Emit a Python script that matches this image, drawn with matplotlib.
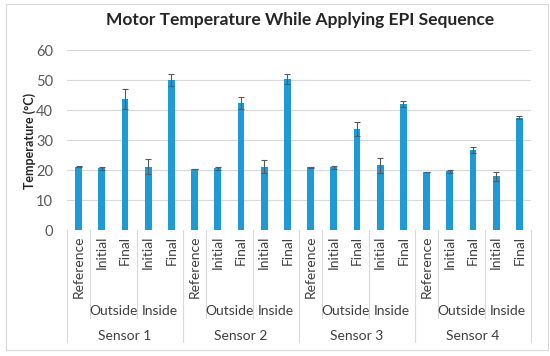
import numpy as np
import matplotlib.pyplot as plt
from matplotlib.patches import Rectangle
from matplotlib.transforms import blended_transform_factory

plt.rcParams['font.family'] = ['Lato', 'DejaVu Sans']

sensors = ["Sensor 1", "Sensor 2", "Sensor 3", "Sensor 4"]
conditions = ["Reference", "Initial", "Final", "Initial", "Final"]
locations = ["Outside", "Inside"]
temps = [21.1, 20.6, 43.7, 21.1, 49.9,
         20.3, 20.6, 42.4, 21.1, 50.3,
         20.9, 20.9, 33.6, 21.6, 41.9,
         19.3, 19.6, 26.6, 17.9, 37.4]
errs = [0.1, 0.5, 3.3, 2.5, 2.0,
        0.1, 0.5, 1.9, 2.1, 1.7,
        0.1, 0.5, 2.4, 2.5, 1.0,
        0.1, 0.5, 1.0, 1.5, 0.5]

W, H = 550, 356
fig = plt.figure(figsize=(W / 100, H / 100), dpi=100)
ax = fig.add_axes([67 / W, (H - 230) / H, 464 / W, 180 / H])

x = np.arange(len(temps))
ax.bar(x, temps, width=0.3, color='#1E9AD6', zorder=3,
       yerr=errs, capsize=2.5,
       error_kw=dict(ecolor='#595959', elinewidth=0.8, capthick=0.8, zorder=4))

ax.set_xlim(-0.5, len(temps) - 0.5)
ax.set_ylim(0, 60)
ax.set_yticks(range(0, 61, 10))
ax.set_xticks([])
ax.grid(axis='y', color='#D9D9D9', lw=0.8, zorder=0)
for s in ax.spines.values():
    s.set_visible(False)
ax.tick_params(axis='y', length=0, labelsize=10.5, labelcolor='#595959', pad=10)

# multi-level category axis
tr = blended_transform_factory(ax.transData, ax.transAxes)
def fy(p):
    return (230 - p) / 180

lc = '#D9D9D9'
for k in range(len(sensors) + 1):
    xb = 5 * k - 0.5
    ax.plot([xb, xb], [fy(230), fy(342)], color=lc, lw=0.8, transform=tr, clip_on=False)
for k in range(len(sensors)):
    for off in (0.5, 2.5):
        xb = 5 * k + off
        ax.plot([xb, xb], [fy(230), fy(318)], color=lc, lw=0.8, transform=tr, clip_on=False)
    for j, c in enumerate(conditions):
        ax.text(5 * k + j, fy(236), c, rotation=90, ha='center', va='top',
                fontsize=10, color='#404040', transform=tr)
    for j, loc in enumerate(locations):
        ax.text(5 * k + 1.5 + 2 * j, fy(311), loc, ha='center', va='center',
                fontsize=10, color='#404040', transform=tr)
    ax.text(5 * k + 2, fy(336), sensors[k], ha='center', va='center',
            fontsize=10, color='#404040', transform=tr)

fig.text(300 / W, 1 - 20 / H, "Motor Temperature While Applying EPI Sequence",
         ha='center', va='center', fontsize=12.5, fontweight='bold', color='#262626')
fig.text(30 / W, 1 - 141 / H, "Temperature (°C)", rotation=90, ha='center', va='center',
         fontsize=9, fontweight='bold', color='#262626')

fig.add_artist(Rectangle((6 / W, 6 / H), 542 / W, 346 / H, transform=fig.transFigure,
                         fill=False, ec='#D9D9D9', lw=0.8))

fig.savefig('out.png', dpi=100)
